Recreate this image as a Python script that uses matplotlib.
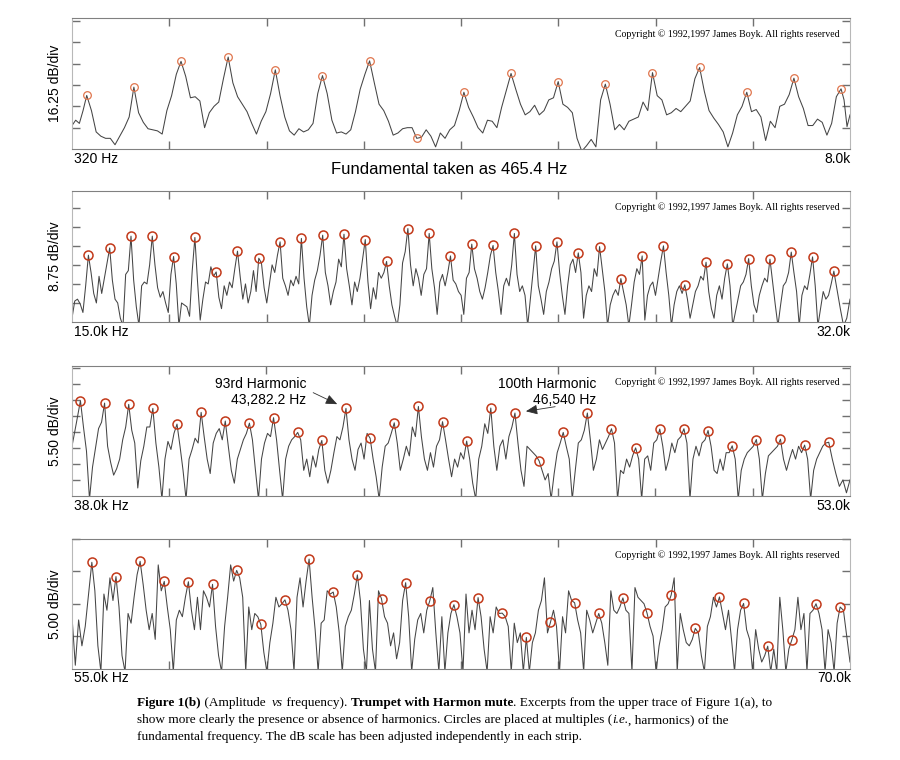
import numpy as np
import matplotlib
matplotlib.use("Agg")
import matplotlib.pyplot as plt
from matplotlib.transforms import offset_copy

plt.rcParams['font.family'] = ['Liberation Sans', 'DejaVu Sans']

f0 = 465.4  # fundamental, Hz

# levels are in divisions above the bottom of each strip
# ---- strip 1: 320 Hz .. 8.0 kHz, 16.25 dB/div
s1_range = (320, 8000)
s1_top = 6.14
s1_peaks = [2.51, 2.90, 4.11, 4.31, 3.71, 3.44, 4.13, 0.50, 2.66, 3.54, 3.16, 3.04,
            3.58, 3.82, 2.66, 3.32, 2.82]
s1_lead = [1.1, 1.35, 1.2, 1.8]
s1_gaps = [
    [1.8, 0.8, 0.6, 0.5, 0.5, 0.2, 0.6, 1.0, 1.5],
    [1.7, 1.25, 0.95, 0.9, 0.85, 0.7, 1.8, 2.5, 3.5],
    [3.4, 2.4, 2.45, 2.25, 1.0, 1.7, 2.0, 2.2, 3.3],
    [3.1, 2.45, 2.1, 1.75, 1.2, 0.7, 1.3, 1.75, 2.6],
    [2.5, 1.5, 0.85, 0.65, 0.95, 0.8, 0.9, 1.2, 2.6],
    [2.6, 1.35, 0.75, 0.8, 0.7, 0.9, 1.75, 2.8, 3.5],
    [3.1, 2.1, 1.8, 1.3, 0.65, 0.75, 0.95, 1.0, 1.0],
    [0.55, 0.9, 0.6, 0.1, 0.75, 0.5, 0.9, 1.1, 1.8],
    [1.95, 1.5, 1.0, 0.75, 1.35, 1.3, 1.0, 1.95, 2.75],
    [2.8, 2.1, 1.6, 1.75, 2.05, 1.6, 1.8, 2.3, 2.4],
    [2.1, 1.95, 1.7, 0.5, -0.1, 0.15, 0.45, 0.1, 2.3],
    [2.1, 0.9, 1.15, 0.9, 1.3, 1.4, 1.5, 2.2, 1.8],
    [2.5, 2.3, 1.6, 1.7, 1.9, 1.75, 2.0, 2.25, 3.3],
    [2.7, 1.8, 1.45, 1.15, 0.8, 0.1, 0.75, 1.6, 2.0],
    [1.75, 1.85, 1.5, 0.4, 1.3, 1.0, 2.0, 2.1, 2.55],
    [2.45, 1.9, 1.1, 1.1, 1.4, 1.25, 0.65, 1.2, 2.45],
]
s1_tail = [2.3, 1.05, 1.6]

# ---- strip 2: 15.0k .. 32.0k, 8.75 dB/div
s2_range = (15000, 32000)
s2_top = 6.88
s2_peaks = [3.51, 3.89, 4.51, 4.51, 3.44, 4.44, 2.63, 3.72, 3.35, 4.21, 4.39, 4.56,
            4.61, 4.33, 3.18, 4.91, 4.65, 3.47, 4.09, 4.02, 4.65, 4.0, 4.21, 3.63,
            3.96, 2.28, 3.47, 4.0, 1.95, 3.14, 3.05, 3.33, 3.30, 3.67, 3.42, 2.67]
s2_lead = [0.2, 1.1, 1.2, 0.95, 0.5, 1.9]
s2_gaps = [
    [2.6, 1.5, 1.0, 2.4, 1.5, 2.3, 3.1],
    [2.2, 1.2, 1.0, 0.2, -0.2, 2.5, 2.7],
    [2.2, 0.8, -0.2, 1.9, 2.1, 2.0, 3.0],
    [3.0, 1.8, 1.3, 1.6, 1.0, 0.5, 2.5],
    [2.0, -0.2, 1.0, 0.9, 0.8, 0.3, 2.7],
    [2.1, 0.1, 1.2, 2.1, 2.0, 2.9, 2.4],
    [1.3, 0.7, 1.9, 1.4, 2.1, 1.8, 2.8],
    [2.4, 1.2, 2.0, 1.0, 1.6, 2.7, 1.6],
    [3.1, 1.8, 1.0, 2.0, 3.0, 2.6, 3.5],
    [2.3, 1.9, 1.4, 2.2, 1.9, 2.4, 2.0],
    [2.3, 0.8, -0.2, 1.4, 2.2, 2.7, 3.5],
    [2.6, 1.9, 0.9, 1.6, 2.1, 3.3, 2.9],
    [2.8, 1.9, 0.9, 2.1, 1.6, 2.3, 3.3],
    [2.1, 0.7, 1.8, 1.2, 2.6, 2.3, 2.6],
    [1.9, 0.9, 0.3, -0.2, 0.9, 3.1, 3.7],
    [3.0, 1.9, 2.8, 2.3, 1.4, 2.5, 2.8],
    [2.8, 1.8, 0.4, 2.1, 2.5, 1.9, 2.6],
    [2.2, 2.0, 1.6, 1.4, 0.4, 2.3, 2.6],
    [2.8, 2.3, 1.6, 1.2, 1.8, 2.6, 3.5],
    [2.6, 1.6, 0.4, 1.9, 2.3, 1.9, 3.0],
    [2.5, 1.6, 1.9, 1.4, -0.2, 1.2, 2.6],
    [1.9, 1.2, 0.4, 1.6, 2.1, 2.8, 3.2],
    [2.6, 1.4, 0.4, 1.9, 3.0, 3.3, 2.6],
    [2.6, 0.2, 1.4, 1.9, 1.6, 2.8, 2.4],
    [2.8, 1.6, -0.2, 0.9, 1.4, 1.7, 1.4],
    [1.6, 0.9, -0.2, 0.9, 2.1, 2.8, 2.5],
    [0.1, 1.4, 1.9, 2.1, 1.4, 2.3, 3.2],
    [2.6, 1.4, -0.2, 0.9, 1.6, 1.9, 1.5],
    [1.2, 0.2, 0.9, 1.6, 1.9, 2.4, 2.2],
    [1.6, 0.7, 0.2, 1.4, 1.9, 1.2, 2.3],
    [1.9, -0.2, 0.5, 1.2, 1.9, 2.1, 2.5],
    [1.9, 0.9, 0.5, 1.4, 1.9, 2.3, 2.1],
    [2.1, 0.9, -0.2, 0.9, 1.9, 2.1, 2.6],
    [2.6, 1.6, -0.2, 1.4, 1.9, 1.7, 2.5],
    [1.9, -0.2, 0.7, 1.6, 1.2, 1.4, 2.0],
]
s2_tail = [1.7, 0.7, -0.2, 0.2, 1.2]

# ---- strip 3: 38.0k .. 53.0k, 5.50 dB/div
s3_range = (38000, 53000)
s3_top = 8.1
s3_peaks = [5.94, 5.79, 5.71, 5.46, 4.48, 5.21, 4.67, 4.54, 4.88, 3.96, 3.46, 5.46,
            3.60, 4.56, 5.58, 4.63, 3.42, 5.48, 5.17, 2.19, 3.96, 5.17, 4.19, 3.0,
            4.17, 4.19, 4.08, 3.13, 3.52, 3.54, 3.17, 3.35]
s3_lead = [3.1, 4.5]
s3_gaps = [
    [4.3, 2.8, -0.2, 1.8, 3.0, 4.2, 4.6],
    [3.1, 2.1, 1.3, 1.7, 2.3, 3.5, 4.3],
    [4.1, 3.3, 0.5, 2.2, 3.1, 4.3, 4.3],
    [3.3, 1.8, -0.2, 2.3, 3.4, 2.9, 3.9],
    [3.1, 1.6, -0.2, 2.3, 2.9, 3.6, 3.3],
    [3.7, 2.3, 1.4, 3.3, 3.9, 4.2, 3.5],
    [3.1, 1.6, 0.8, 2.3, 2.9, 3.5, 3.9],
    [3.5, 1.6, -0.2, 2.3, 3.3, 3.9, 3.7],
    [3.5, 1.6, -0.2, 2.3, 3.1, 3.5, 3.7],
    [3.5, 1.6, 2.3, 1.2, 2.5, 1.8, 2.9],
    [1.6, 0.8, 1.6, 2.7, 3.7, 3.5, 4.3],
    [3.5, 2.3, 1.6, 2.9, 3.3, 2.3, 3.9],
    [2.3, 1.2, -0.2, 1.8, 3.1, 3.3, 3.9],
    [3.3, 1.6, 2.3, 3.1, 2.5, 4.3, 3.7],
    [3.7, 2.3, 1.6, 2.7, 1.8, 3.1, 3.5],
    [3.5, 2.3, 1.2, 2.3, 1.8, 2.7, 2.3],
    [2.3, 0.8, -0.2, 2.3, 3.1, 4.5, 3.9],
    [3.1, 1.6, 3.1, 3.5, 2.3, 3.7, 4.3],
    [3.3, 1.6, 0.6, 3.1, 2.9, 2.7, 2.5],
    [1.6, 1.0, 1.4, -0.2, 1.4, 2.7, 3.3],
    [3.1, 2.3, -0.2, 1.6, 3.3, 3.5, 4.1],
    [3.5, 1.6, 2.3, 3.5, 2.9, 3.3, 3.7],
    [3.3, -0.2, 1.6, 1.4, 2.3, 1.8, 2.5],
    [2.3, -0.2, 2.3, 2.5, 1.6, 3.3, 3.5],
    [3.1, 1.6, 2.3, 3.3, 2.7, 3.5, 3.7],
    [3.3, -0.2, 2.3, 3.1, 2.5, 3.3, 3.5],
    [3.1, 1.6, 1.4, 2.3, 1.6, 2.7, 2.7],
    [2.3, -0.2, 1.6, 2.3, 2.7, 2.9, 3.1],
    [2.3, -0.2, 1.4, 2.5, 2.7, 2.9, 3.1],
    [2.3, 1.6, 2.3, 2.9, 2.3, 3.1, 2.7],
    [2.3, -0.2, 1.6, 2.3, 2.7, 3.1, 3.3],
]
s3_tail = [2.3, 1.4, 0.6, 1.0, 0.2, 1.0]

# ---- strip 4: 55.0k .. 70.0k, 5.00 dB/div
s4_range = (55000, 70000)
s4_top = 4.0
s4_peaks = [3.28, 2.84, 3.31, 2.69, 2.68, 2.60, 3.03, 1.36, 2.12, 3.38, 2.36,
            2.89, 2.15, 2.65, 2.09, 1.97, 2.19, 1.71, 0.96, 1.43, 2.03, 1.70,
            2.18, 1.71, 2.27, 1.24, 2.21, 2.01, 0.69, 0.89, 2.0, 1.90]
s4_lead = [1.6, 0.1, 1.5, 0.7, 1.3, 2.3]
s4_gaps = [
    [2.4, 0.7, -0.1, 2.3, 1.8, 2.8, 2.1],
    [1.9, 0.4, -0.1, 1.7, 1.4, 2.2, 2.9],
    [2.6, 1.8, 1.2, 1.7, 0.9, 3.2, 2.4],
    [1.9, 1.2, -0.1, 1.5, 1.8, 1.6, 2.2],
    [1.8, 1.2, 2.2, 1.2, 2.4, 2.2, 1.9],
    [1.3, 0.4, -0.1, 1.3, 2.2, 3.2, 2.7],
    [2.8, 2.2, -0.1, 1.9, 1.2, 1.7, 1.6],
    [0.5, -0.1, 0.8, 1.4, 2.2, 1.9, 2.0],
    [1.8, 1.2, -0.1, 2.2, 2.8, 1.9, 2.7],
    [2.2, 1.2, -0.1, 1.4, 1.5, 2.4, 2.3],
    [1.9, 1.1, -0.1, 1.3, 1.6, 1.8, 2.3],
    [2.1, 0.6, -0.1, 2.1, 0.6, -0.1, 2.4],
    [1.6, 1.4, 0.7, 1.1, 0.3, 0.8, 2.1],
    [1.6, -0.1, 0.9, 1.5, 1.7, 1.1, 1.8],
    [2.5, 1.1, -0.1, 1.6, -0.1, 1.1, 1.7],
    [1.6, 1.1, -0.1, 2.3, 1.1, 1.8, 1.2],
    [1.6, 0.6, -0.1, 1.6, 1.1, 1.9, 1.7],
    [1.6, 1.3, -0.1, 1.4, 0.8, 1.1, -0.1],
    [-0.1, 0.8, 1.1, 1.8, 2.1, 2.8, 1.1],
    [1.8, 1.3, -0.1, 1.6, 1.1, 2.4, 2.1],
    [1.5, 1.1, -0.1, 1.8, 1.5, 1.1, 1.4],
    [1.4, 0.8, 0.1, 2.4, 1.8, 1.7, 1.9],
    [1.8, 1.7, -0.1, 2.5, 2.2, 2.1, 2.0],
    [1.3, 1.0, -0.1, 0.7, 1.2, 1.9, 2.0],
    [2.8, -0.1, 1.7, 1.2, 0.8, 0.7, 0.9],
    [1.1, 0.4, -0.1, 1.3, 1.6, 2.2, 1.9],
    [1.7, 1.2, 1.8, 0.9, -0.1, 1.2, 1.8],
    [1.2, 0.9, -0.1, 1.2, 0.6, 0.2, 0.4],
    [-0.1, 0.6, -0.1, 2.2, 1.2, -0.1, 0.6],
    [1.2, 2.2, 1.2, 1.7, -0.1, 1.7, 1.8],
    [1.7, 1.2, -0.1, 1.2, 0.8, -0.1, 1.4],
]
s4_tail = [1.8, 1.0, 0.2]

scale_labels = ['16.25 dB/div', '8.75 dB/div', '5.50 dB/div', '5.00 dB/div']
left_labels = ['320 Hz', '15.0k Hz', '38.0k Hz', '55.0k Hz']
right_labels = ['8.0k', '32.0k', '53.0k', '70.0k']
copyright_text = 'Copyright \u00a9 1992,1997 James Boyk. All rights reserved'


def build_trace(lo, hi, peaks, lead, gaps, tail):
    n1 = int(np.ceil(lo / f0))
    harm = f0 * np.arange(n1, n1 + len(peaks))
    xs = list(lo + np.arange(len(lead)) * (harm[0] - lo) / len(lead))
    ys = list(lead)
    for i, h in enumerate(harm):
        xs.append(h)
        ys.append(peaks[i])
        if i < len(gaps):
            row = gaps[i]
            xs += list(h + np.arange(1, len(row) + 1) * f0 / (len(row) + 1))
            ys += row
    xs += list(harm[-1] + np.arange(1, len(tail) + 1) * (hi - harm[-1]) / len(tail))
    ys += tail
    return n1, harm, np.array(xs), np.array(ys)


strips = [
    (s1_range, s1_top, s1_peaks, s1_lead, s1_gaps, s1_tail),
    (s2_range, s2_top, s2_peaks, s2_lead, s2_gaps, s2_tail),
    (s3_range, s3_top, s3_peaks, s3_lead, s3_gaps, s3_tail),
    (s4_range, s4_top, s4_peaks, s4_lead, s4_gaps, s4_tail),
]

# axes boxes in pixels (top, bottom) of a 900x760 figure
boxes = [(18, 149), (191, 322), (366, 496), (539, 668.5)]

fig = plt.figure(figsize=(9, 7.6), dpi=100)
axes = []
for k, (rng, top, peaks, lead, gaps, tail) in enumerate(strips):
    t, b = boxes[k]
    ax = fig.add_axes([72 / 900, 1 - b / 760, 778 / 900, (b - t) / 760])
    axes.append(ax)
    n1, harm, xs, ys = build_trace(rng[0], rng[1], peaks, lead, gaps, tail)
    ax.plot(xs, ys, color='#454545', lw=0.75)
    if k == 0:
        ax.plot(harm, peaks, 'o', ms=5.5, mfc='none', mec='#e0764e', mew=0.9)
    else:
        ax.plot(harm, peaks, 'o', ms=6.5, mfc='none', mec='#c2391a', mew=1.1)
    ax.set_xlim(rng)
    ax.set_ylim(0, top)
    ax.set_xticks(np.linspace(rng[0], rng[1], 9)[1:-1])
    ax.set_yticks(np.arange(1, int(top) + 1))
    ax.tick_params(direction='in', top=True, right=True, length=6, width=1,
                   color='#707070', labelbottom=False, labelleft=False)
    for side in ['top', 'bottom']:
        ax.spines[side].set_color('#808080')
        ax.spines[side].set_linestyle((0, (1, 1)))
    for side in ['left', 'right']:
        ax.spines[side].set_color('#b8b8b8')

    ax.text(-0.022, 0.5, scale_labels[k], transform=ax.transAxes, rotation=90,
            ha='center', va='center', fontsize=10)
    below = offset_copy(ax.transAxes, fig=fig, x=0, y=-10, units='dots')
    ax.text(0.003, 0, left_labels[k], transform=below, ha='left', va='center',
            fontsize=10)
    ax.text(1.001, 0, right_labels[k], transform=below, ha='right', va='center',
            fontsize=10)
    above = offset_copy(ax.transAxes, fig=fig, x=0, y=-16, units='dots')
    ax.text(0.987, 1, copyright_text, transform=above, ha='right', va='center',
            fontsize=7.1, family='Liberation Serif')

fig.text(449 / 900, 1 - 170 / 760, 'Fundamental taken as 465.4 Hz',
         ha='center', va='center', fontsize=12)

# harmonic call-outs on strip 3
ax3 = axes[2]
n3 = int(np.ceil(s3_range[0] / f0))
for n, txt, tpos, tail_pos, shrink in [
        (93, '93rd Harmonic\n43,282.2 Hz', (0.301, 0.80), (0.310, 0.795), 7),
        (100, '100th Harmonic\n46,540 Hz', (0.6744, 0.80), (0.621, 0.687), 8)]:
    ax3.text(tpos[0], tpos[1], txt, transform=ax3.transAxes, ha='right',
             va='center', multialignment='right', fontsize=10, linespacing=1.1)
    ax3.annotate('', xy=(n * f0, s3_peaks[n - n3]), xycoords='data',
                 xytext=tail_pos, textcoords='axes fraction',
                 arrowprops=dict(arrowstyle='-|>,head_length=0.7,head_width=0.3',
                                 color='#303030', lw=0.6, shrinkA=0, shrinkB=shrink))

# caption: runs of (text, weight, style) per line
cap_lines = [
    [('Figure 1(b)', 'bold', 'normal'), (' (Amplitude  ', 'normal', 'normal'),
     ('vs', 'normal', 'italic'), (' frequency). ', 'normal', 'normal'),
     ('Trumpet with Harmon mute', 'bold', 'normal'),
     ('. Excerpts from the upper trace of Figure 1(a), to', 'normal', 'normal')],
    [('show more clearly the presence or absence of harmonics. Circles are placed at multiples (',
      'normal', 'normal'),
     ('i.e.', 'normal', 'italic'), (', harmonics) of the', 'normal', 'normal')],
    [('fundamental frequency. The dB scale has been adjusted independently in each strip.',
      'normal', 'normal')],
]
renderer = fig.canvas.get_renderer()
for i, runs in enumerate(cap_lines):
    x = 137 / 900
    y = 1 - (703 + 17 * i) / 760
    for txt, weight, style in runs:
        t = fig.text(x, y, txt, ha='left', va='center', fontsize=9.5,
                     family='Liberation Serif', weight=weight, style=style)
        x += t.get_window_extent(renderer=renderer).width / fig.bbox.width

fig.savefig('out.png', dpi=100, facecolor='white')
